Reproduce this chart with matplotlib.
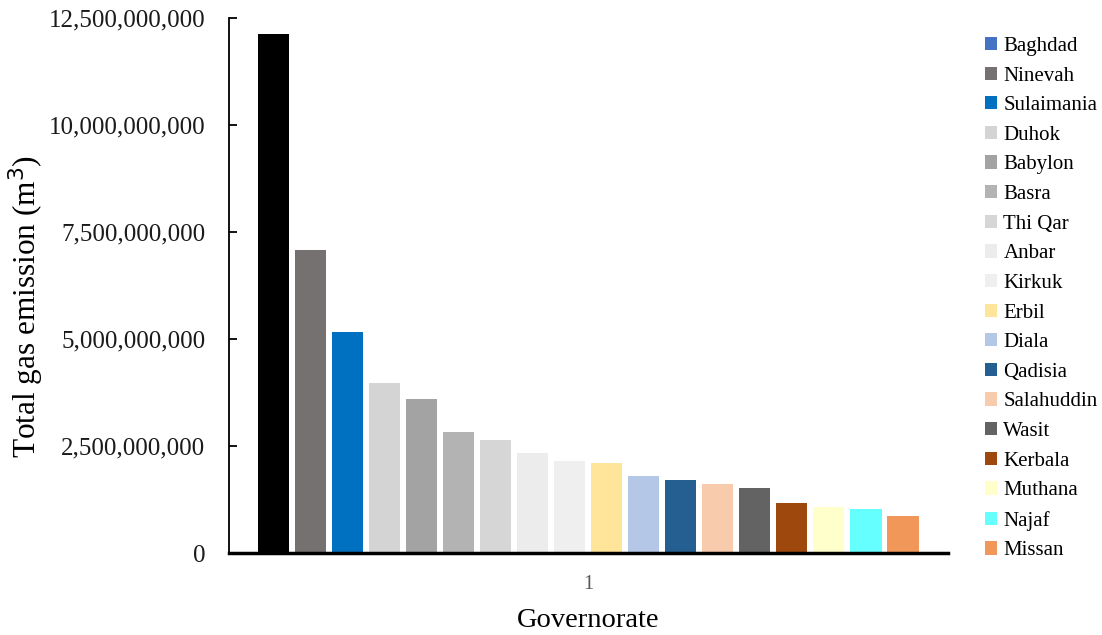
import numpy as np
import matplotlib
matplotlib.use('Agg')
import matplotlib.pyplot as plt
import matplotlib.ticker as mticker
from matplotlib.patches import Patch

plt.rcParams['font.family'] = ['Liberation Serif', 'DejaVu Serif']

governorates = ['Baghdad', 'Ninevah', 'Sulaimania', 'Duhok', 'Babylon', 'Basra',
                'Thi Qar', 'Anbar', 'Kirkuk', 'Erbil', 'Diala', 'Qadisia',
                'Salahuddin', 'Wasit', 'Kerbala', 'Muthana', 'Najaf', 'Missan']
emission = [12.12e9, 7.08e9, 5.16e9, 3.97e9, 3.60e9, 2.83e9,
            2.65e9, 2.34e9, 2.16e9, 2.11e9, 1.81e9, 1.71e9,
            1.61e9, 1.53e9, 1.16e9, 1.07e9, 1.02e9, 0.87e9]
bar_colors = ['#000000', '#767171', '#0070c0', '#d4d4d4', '#a3a3a3', '#b3b3b3',
              '#d6d6d6', '#ececec', '#efefef', '#ffe599', '#b4c7e7', '#255e91',
              '#f8cbad', '#636363', '#9e480e', '#ffffcc', '#66ffff', '#f1975a']
# legend swatch for Baghdad keeps the default series blue
legend_colors = ['#4472c4'] + bar_colors[1:]
yticks = [0, 2.5e9, 5e9, 7.5e9, 10e9, 12.5e9]

fig = plt.figure(figsize=(11.02, 6.35), dpi=100)
ax = fig.add_axes([0.2078, 0.1291, 0.6522, 0.8426])

n = len(governorates)
slot = 0.927 / n
xpos = 0.5 + (np.arange(n) - (n - 1) / 2) * slot
ax.bar(xpos, emission, width=slot * 0.84, color=bar_colors, edgecolor='none')

ax.set_xlim(0, 1)
ax.set_ylim(0, 12.5e9)
ax.set_yticks(yticks)
ax.yaxis.set_major_formatter(mticker.FuncFormatter(lambda v, p: f'{v:,.0f}'))
ax.set_xticks([0.5])
ax.set_xticklabels(['1'], color='#595959', fontsize=14.5)
ax.tick_params(axis='x', length=0, pad=16)
ax.tick_params(axis='y', direction='in', length=6, width=1.3, labelsize=18, pad=17,
               labelcolor='#1a1a1a')

for s in ['top', 'right']:
    ax.spines[s].set_visible(False)
ax.spines['left'].set_linewidth(1.3)
ax.spines['bottom'].set_linewidth(2.5)

ax.set_ylabel('Total gas emission (m$^3$)', fontsize=22.5)
ax.yaxis.set_label_coords(-0.255, 0.46)
ax.set_xlabel('Governorate', fontsize=20.5, labelpad=10)

handles = [Patch(facecolor=c, edgecolor='none') for c in legend_colors]
fig.legend(handles, governorates, loc='upper left', bbox_to_anchor=(0.886, 0.955),
           frameon=False, fontsize=15, handlelength=0.6, handleheight=0.6,
           handletextpad=0.3, labelspacing=0.51, borderaxespad=0)

plt.savefig('out.png', dpi=100)
